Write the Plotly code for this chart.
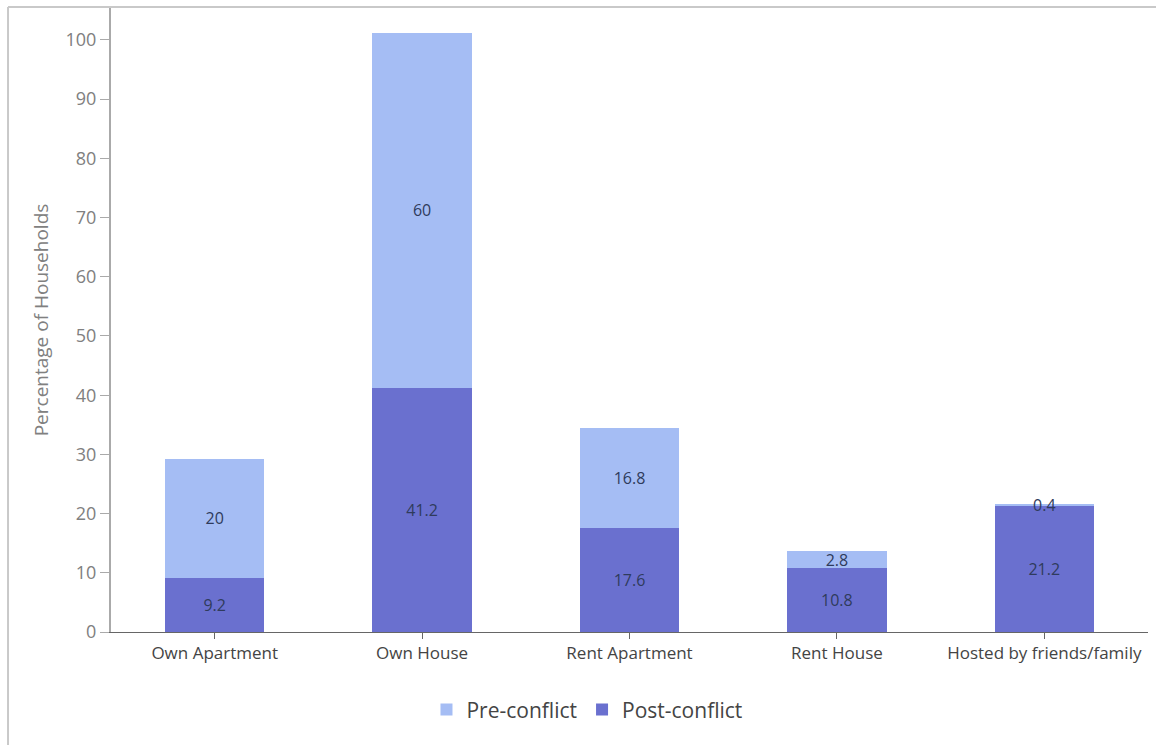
import plotly.graph_objects as go

categories = ["Own Apartment", "Own House", "Rent Apartment", "Rent House", "Hosted by friends/family"]
post_conflict = [9.2, 41.2, 17.6, 10.8, 21.2]
pre_conflict = [20, 60, 16.8, 2.8, 0.4]

PRE_COLOR = "#a5bdf4"
POST_COLOR = "#6a70cf"
FONT = "'Open Sans', 'Noto Sans', sans-serif"
LABEL_COLOR = "#2f3b5c"

fig = go.Figure()
fig.add_trace(go.Bar(
    name="Post-conflict", x=categories, y=post_conflict,
    marker=dict(color=POST_COLOR, line=dict(width=0)),
    text=[f"{v:g}" for v in post_conflict], textposition="inside",
    insidetextanchor="middle", textangle=0,
    textfont=dict(color=LABEL_COLOR, size=16, family=FONT),
))
fig.add_trace(go.Bar(
    name="Pre-conflict", x=categories, y=pre_conflict,
    marker=dict(color=PRE_COLOR, line=dict(width=0)),
    text=[f"{v:g}" for v in pre_conflict], textposition="inside",
    insidetextanchor="middle", textangle=0,
    textfont=dict(color=LABEL_COLOR, size=16, family=FONT),
))

# Outer frame (left and top edges)
frame = dict(color="#c9c9c9", width=2)
fig.add_shape(type="line", xref="paper", yref="paper", x0=-0.0993, x1=1.2, y0=1.0016, y1=1.0016, line=frame)
fig.add_shape(type="line", xref="paper", yref="paper", x0=-0.0993, x1=-0.0993, y0=1.0016, y1=-0.3, line=frame)

fig.update_layout(
    width=1156, height=745,
    barmode="stack", bargap=0.52,
    plot_bgcolor="white", paper_bgcolor="white",
    margin=dict(l=111, r=8, t=8, b=113, autoexpand=False),
    font=dict(family=FONT, color="#555"),
    uniformtext=dict(mode="show", minsize=16),
    legend=dict(orientation="h", x=0.459, xanchor="center", y=-0.092, yanchor="top",
                traceorder="reversed", font=dict(size=21, color="#444"),
                itemwidth=30),
    yaxis=dict(range=[0, 105.4], dtick=10, showgrid=False, zeroline=False,
               showline=True, linecolor="#aaaaaa", linewidth=2,
               ticks="outside", ticklen=9, tickcolor="#aaaaaa", tickwidth=1,
               tickfont=dict(size=18, color="#808080"),
               title=dict(text="Percentage of Households", font=dict(size=19, color="#808080"), standoff=12)),
    xaxis=dict(showgrid=False, showline=True, linecolor="#666", linewidth=1,
               ticks="outside", ticklen=6, tickcolor="#666",
               tickfont=dict(size=17, color="#444")),
)

fig.write_html("out.html")
